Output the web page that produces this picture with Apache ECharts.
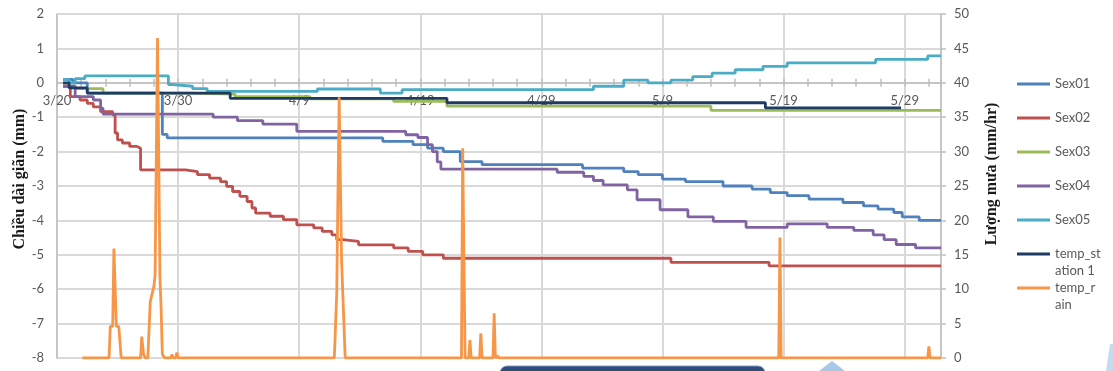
<!DOCTYPE html>
<html>
<head>
<meta charset="utf-8">
<script src="https://cdn.jsdelivr.net/npm/echarts@6/dist/echarts.min.js"></script>
<style>
  html, body { margin: 0; padding: 0; background: #ffffff; }
  #chart { width: 1113px; height: 371px; }
</style>
</head>
<body>
<div id="chart"></div>
<script>
// Extensometer displacement (mm) and rainfall (mm/hr); x = days since 3/20
const dateLabels = ['3/20', '3/30', '4/9', '4/19', '4/29', '5/9', '5/19', '5/29'];
const seriesNames = ['Sex01', 'Sex02', 'Sex03', 'Sex04', 'Sex05', 'temp_station 1', 'temp_rain'];
const legendLabels = ['Sex01', 'Sex02', 'Sex03', 'Sex04', 'Sex05', 'temp_st\nation 1', 'temp_r\nain'];
const seriesColors = ['#4F81BD', '#C0504D', '#9BBB59', '#8064A2', '#4BACC6', '#1F3B63', '#F79646'];

const sex01 = [[0.5,0.1],[1.3,0.0],[2.5,-0.3],[8.7,-1.5],[9.1,-1.6],[26.9,-1.7],[29.4,-1.8],[30.6,-1.9],[31.9,-2.0],
  [33.3,-2.29],[35.1,-2.38],[43.4,-2.48],[46.8,-2.58],[48.0,-2.67],[50.0,-2.8],[51.9,-2.87],[55.0,-3.0],
  [57.4,-3.09],[58.9,-3.19],[60.3,-3.28],[62.1,-3.38],[64.9,-3.48],[66.6,-3.58],[67.8,-3.67],[69.1,-3.77],
  [69.8,-3.9],[71.2,-4.0],[73,-4.0]];

const sex02 = [[0.5,-0.1],[1.1,-0.4],[1.9,-0.5],[2.5,-0.6],[3.0,-0.7],[3.6,-0.84],[4.6,-0.93],[4.8,-1.46],
  [5.0,-1.66],[5.4,-1.75],[6.0,-1.85],[6.6,-1.9],[6.9,-2.53],[10.6,-2.58],[11.6,-2.67],[12.6,-2.77],
  [13.5,-2.87],[14.0,-3.01],[14.5,-3.16],[15.1,-3.3],[15.7,-3.45],[16.1,-3.64],[16.4,-3.79],[17.6,-3.88],
  [18.7,-3.98],[19.8,-4.13],[21.2,-4.22],[21.9,-4.32],[22.7,-4.42],[23.1,-4.56],[23.6,-4.61],[24.9,-4.71],
  [27.8,-4.8],[29.0,-4.9],[30.2,-5.0],[31.9,-5.1],[50.7,-5.22],[58.8,-5.32],[73,-5.32]];

const sex03 = [[0.5,-0.1],[1.5,-0.17],[3.8,-0.3],[10.7,-0.33],[14.7,-0.4],[20.9,-0.47],[27.8,-0.54],
  [32.2,-0.68],[54.0,-0.8],[73,-0.8]];

const sex04 = [[0.5,-0.1],[1.5,-0.4],[3.0,-0.5],[3.6,-0.74],[3.8,-0.91],[12.9,-1.0],[14.9,-1.1],[17.0,-1.2],
  [19.8,-1.41],[28.8,-1.51],[29.8,-1.59],[30.6,-1.8],[31.0,-2.0],[31.4,-2.3],[31.7,-2.51],[41.3,-2.6],
  [43.5,-2.72],[44.3,-2.84],[45.1,-2.97],[47.1,-3.11],[47.9,-3.4],[49.8,-3.69],[52.1,-3.9],[54.2,-4.03],
  [56.9,-4.2],[60.3,-4.1],[63.6,-4.2],[65.8,-4.29],[67.4,-4.42],[68.3,-4.56],[69.3,-4.7],[70.9,-4.8],[73,-4.8]];

const sex05 = [[0.5,0.1],[1.0,0.0],[1.5,0.12],[2.3,0.2],[9.2,-0.05],[9.6,-0.1],[11.2,-0.17],[12.4,-0.25],
  [21.5,-0.18],[26.7,-0.3],[28.5,-0.2],[44.3,-0.1],[46.8,0.08],[48.8,0.0],[50.7,0.08],[52.5,0.18],
  [54.1,0.28],[56.0,0.38],[58.3,0.48],[60.3,0.58],[67.6,0.68],[71.9,0.78],[73,0.78]];

const tempStation = [[0.5,0],[1.0,-0.15],[2.5,-0.3],[14.3,-0.45],[32.2,-0.58],[58.5,-0.73],[69.7,-0.73]];

const tempRain = [[2.1,0],[4.3,0],[4.4,4.6],[4.6,4.6],[4.7,15.9],[4.8,15.9],[4.9,4.6],[5.1,4.6],[5.3,0],
  [6.9,0],[7.0,3.1],[7.15,0.5],[7.3,0],[7.5,0],[7.7,8.2],[7.8,8.2],[8.0,10.4],[8.1,12],[8.2,12],
  [8.3,46.5],[8.4,46.5],[8.5,12],[8.6,7],[8.7,0.5],[8.9,0],[9.4,0],[9.5,0.5],[9.6,0],[9.8,0],[9.9,0.8],[10.0,0],
  [22.9,0],[23.1,9.4],[23.2,9.4],[23.3,37.9],[23.4,37.9],[23.5,14.2],[23.6,14.2],[23.8,0],
  [33.4,0],[33.5,30.5],[33.6,30.5],[33.7,0],[34.0,0],[34.1,2.6],[34.2,0],[34.9,0],[35.0,3.6],[35.1,0],
  [36.0,0],[36.1,6.5],[36.2,0],[36.4,0.3],[36.5,0],
  [59.6,0],[59.7,17.5],[59.8,0],[71.9,0],[72.0,1.7],[72.1,0],[73,0]];

const seriesData = [sex01, sex02, sex03, sex04, sex05, tempStation, tempRain];

// axis extents
const xMin = 0, xMax = 73;
const yLeftMin = -8, yLeftMax = 2;
const yRightMin = 0, yRightMax = 50;

const labelFont = 'Lato, "Open Sans", sans-serif';
const titleFont = 'bold 16px "Liberation Serif", "DejaVu Serif", serif';
const gridColor = '#D9D9D9';
const axisColor = '#BFBFBF';
const textGray = '#595959';

const W = 1113, H = 371;
const grid = { left: 57, right: 172, top: 14, bottom: 13 };
// the date axis sits on the zero line of the left axis
const plotH = H - grid.top - grid.bottom;
const zeroOffset = -plotH * (0 - yLeftMin) / (yLeftMax - yLeftMin);

// legend geometry: one text line per row, wrapped remainders written beneath
const legendLeft = 1017, legendTop = 75.5;
const legendIconW = 33, legendTextGap = 5;
const legendLineH = 17, legendGap = 17;
const legendRowH = legendLineH + legendGap;

const chart = echarts.init(document.getElementById('chart'), null, { renderer: 'canvas', width: W, height: H });

const tickAxis = (inside) => ({
  type: 'value', min: xMin, max: xMax, interval: 2, position: 'bottom', offset: zeroOffset,
  axisLine: { show: false, onZero: false },
  axisTick: { show: true, inside: inside, length: 4, lineStyle: { color: axisColor, width: 1.5 } },
  axisLabel: { show: false }, splitLine: { show: false }
});

const legendContinuation = [];
legendLabels.forEach((label, i) => {
  const lines = label.split('\n');
  lines.slice(1).forEach((line, k) => {
    legendContinuation.push({
      type: 'text',
      x: legendLeft + legendIconW + legendTextGap,
      y: legendTop + legendLineH / 2 + i * legendRowH + (k + 1) * legendLineH,
      style: {
        text: line, fill: textGray, font: '13px ' + labelFont,
        textAlign: 'left', textVerticalAlign: 'middle', align: 'left', verticalAlign: 'middle'
      }
    });
  });
});

const option = {
  animation: false,
  backgroundColor: '#ffffff',
  grid: Object.assign({ containLabel: false, outerBoundsMode: 'none' }, grid),
  xAxis: [
    {
      type: 'value', min: xMin, max: xMax, interval: 10, position: 'bottom', offset: zeroOffset,
      axisLine: { show: true, onZero: false, lineStyle: { color: axisColor, width: 1.5 } },
      axisTick: { show: false },
      axisLabel: {
        color: textGray, fontFamily: labelFont, fontSize: 13, margin: 12,
        formatter: (v) => (v % 10 === 0 && dateLabels[v / 10]) ? dateLabels[v / 10] : ''
      },
      splitLine: { show: true, lineStyle: { color: gridColor, width: 2 } }
    },
    tickAxis(true),
    tickAxis(false)
  ],
  yAxis: [
    {
      type: 'value', min: yLeftMin, max: yLeftMax, interval: 1, position: 'left',
      axisLine: { show: true, onZero: false, lineStyle: { color: axisColor, width: 1.5 } },
      axisTick: { show: false },
      axisLabel: { color: textGray, fontFamily: labelFont, fontSize: 13, margin: 13 },
      splitLine: { show: true, lineStyle: { color: gridColor, width: 2 } }
    },
    {
      type: 'value', min: yRightMin, max: yRightMax, interval: 5, position: 'right',
      axisLine: { show: true, onZero: false, lineStyle: { color: axisColor, width: 1.5 } },
      axisTick: { show: true, length: 5, lineStyle: { color: axisColor, width: 1.5 } },
      axisLabel: { color: textGray, fontFamily: labelFont, fontSize: 13, margin: 13 },
      splitLine: { show: false }
    }
  ],
  legend: {
    orient: 'vertical', left: legendLeft, top: legendTop, padding: 0,
    icon: 'rect', itemWidth: legendIconW, itemHeight: 3, itemGap: legendGap,
    data: seriesNames,
    formatter: (name) => legendLabels[seriesNames.indexOf(name)].split('\n')[0],
    textStyle: { color: textGray, fontFamily: labelFont, fontSize: 13, lineHeight: legendLineH }
  },
  series: seriesNames.map((name, i) => ({
    name: name,
    type: 'line',
    xAxisIndex: 0,
    yAxisIndex: name === 'temp_rain' ? 1 : 0,
    step: name === 'temp_rain' ? false : 'end',
    symbol: 'none',
    data: seriesData[i],
    color: seriesColors[i],
    itemStyle: { color: seriesColors[i] },
    lineStyle: { color: seriesColors[i], width: 2.8 }
  })),
  graphic: [
    {
      type: 'text', x: 20, y: 179, rotation: Math.PI / 2,
      style: {
        text: 'Chiều dài giãn (mm)', fill: '#1a1a1a', font: titleFont,
        textAlign: 'center', textVerticalAlign: 'middle', align: 'center', verticalAlign: 'middle'
      }
    },
    {
      type: 'text', x: 992, y: 174, rotation: Math.PI / 2,
      style: {
        text: 'Lượng mưa (mm/hr)', fill: '#1a1a1a', font: titleFont,
        textAlign: 'center', textVerticalAlign: 'middle', align: 'center', verticalAlign: 'middle'
      }
    },
    {
      type: 'rect', shape: { x: 500, y: 366, width: 265, height: 14, r: 7 },
      style: { fill: '#2F4D78', stroke: '#7F9CC2', lineWidth: 1 }
    },
    {
      type: 'polygon', shape: { points: [[819, 371], [832, 361], [845, 371]] },
      style: { fill: '#A8C8E6' }
    },
    {
      type: 'polygon', shape: { points: [[1106, 371], [1110, 344], [1113, 344], [1113, 371]] },
      style: { fill: '#C5DBEF' }
    }
  ].concat(legendContinuation)
};

chart.setOption(option);
</script>
</body>
</html>
